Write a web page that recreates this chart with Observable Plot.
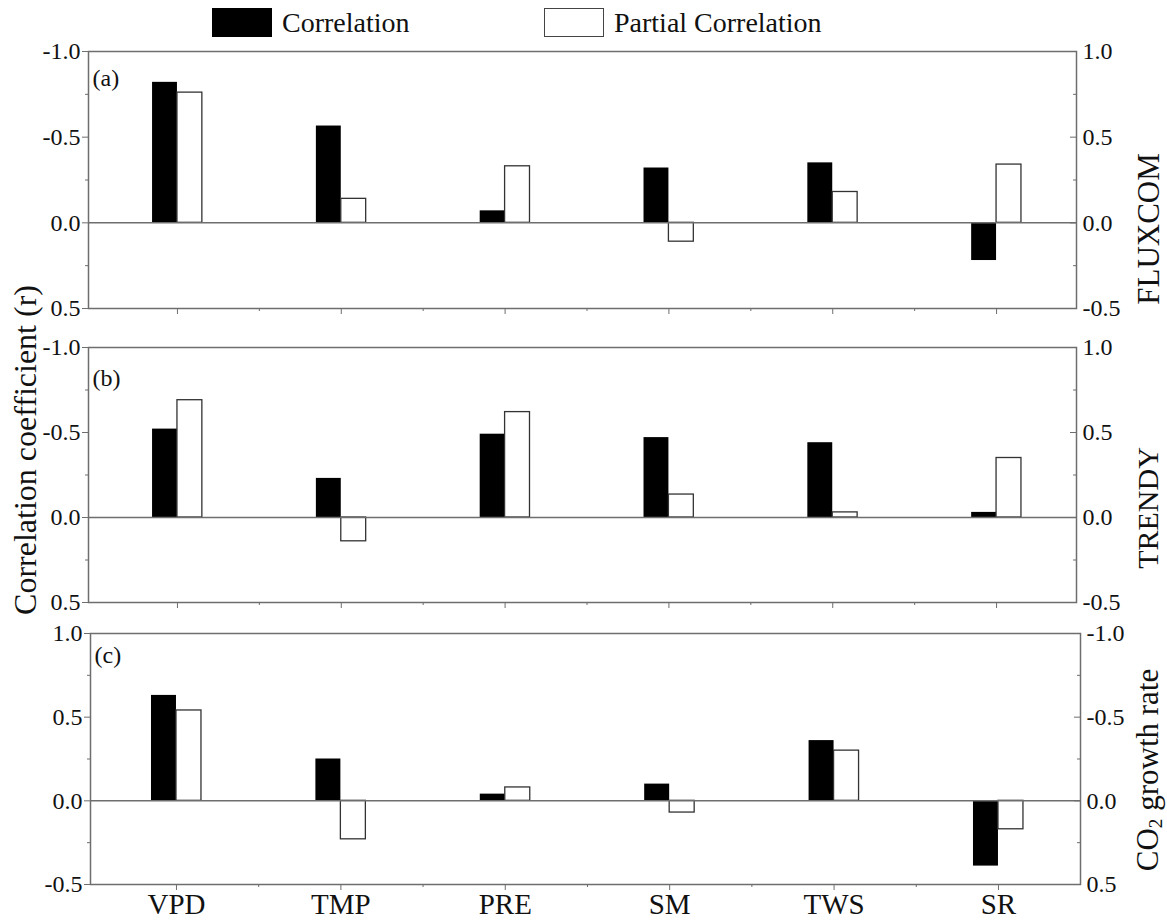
<!DOCTYPE html>
<html>
<head>
<meta charset="utf-8">
<script src="https://cdn.jsdelivr.net/npm/d3@7"></script>
<script src="https://cdn.jsdelivr.net/npm/@observablehq/plot@0.6"></script>
<style>
  html, body { margin: 0; padding: 0; background: #fff; }
  #root { position: relative; width: 1167px; height: 924px; overflow: hidden;
          font-family: "Liberation Serif", "Times New Roman", serif; color: #111; }
  .panel { position: absolute; left: 0; }
  .rot { position: absolute; transform: translate(-50%, -50%) rotate(-90deg);
         white-space: nowrap; line-height: 1; font-size: 31px; }
  .rot sub { font-size: 0.62em; vertical-align: -0.25em; line-height: 0; }
  .swatch { position: absolute; width: 60px; height: 29px; box-sizing: border-box; }
  .legtext { position: absolute; font-size: 28px; line-height: 1; white-space: nowrap; }
</style>
</head>
<body>
<div id="root"></div>
<script>
// ---------- data (left-axis correlation coefficients) ----------
const variables = ["VPD", "TMP", "PRE", "SM", "TWS", "SR"];
const fluxcomCorr    = [-0.82, -0.565, -0.07, -0.32, -0.35,  0.22];
const fluxcomPartial = [-0.76, -0.14,  -0.33,  0.11, -0.18, -0.34];
const trendyCorr     = [-0.52, -0.23,  -0.49, -0.47, -0.44, -0.03];
const trendyPartial  = [-0.69,  0.14,  -0.62, -0.135, -0.03, -0.35];
const co2Corr        = [ 0.63,  0.25,   0.04,  0.10,  0.36, -0.39];
const co2Partial     = [ 0.54, -0.23,   0.08, -0.07,  0.30, -0.17];
// tick values (left axis); right axis shows the opposite sign
const majorTicksAB = [-1.0, -0.5, 0.0, 0.5];
const minorTicksAB = [-0.75, -0.25, 0.25];
const majorTicksC  = [-0.5, 0.0, 0.5, 1.0];
const minorTicksC  = [-0.25, 0.25, 0.75];
const xMajor = [0, 1, 2, 3, 4, 5];
const xMinor = [0.5, 1.5, 2.5, 3.5, 4.5];
const seriesNames = ["Correlation", "Partial Correlation"];

const root = document.getElementById("root");
const W = 1167;
const barW = 0.152;
const axisGray = "#6e6e6e";
const ink = "#111";

function makePanel(cfg) {
  const rows = variables.map((v, i) => ({ v, i, corr: cfg.corr[i], partial: cfg.partial[i] }));
  const frameW = W - cfg.ml - cfg.mr;
  const plot = Plot.plot({
    width: W,
    height: cfg.height,
    marginLeft: cfg.ml,
    marginRight: cfg.mr,
    marginTop: cfg.mt,
    marginBottom: cfg.mb,
    style: { fontFamily: '"Liberation Serif", "Times New Roman", serif', color: ink, background: "transparent" },
    x: { type: "linear", domain: cfg.xDomain },
    y: { type: "linear", domain: cfg.yDomain },
    marks: [
      Plot.rect(rows, { x1: d => d.i - barW, x2: d => d.i, y1: d => 0, y2: d => d.corr, fill: "#000" }),
      Plot.rect(rows, { x1: d => d.i, x2: d => d.i + barW, y1: d => 0, y2: d => d.partial,
                        fill: "#fff", stroke: "#333", strokeWidth: 1.3 }),
      Plot.ruleY([0], { stroke: axisGray, strokeWidth: 1.5 }),
      Plot.frame({ stroke: axisGray, strokeWidth: 1.5 }),
      // left axis
      Plot.axisY({ anchor: "left", ticks: cfg.major, tickSize: 6, tickPadding: 2,
                   tickFormat: d => d.toFixed(1), fontSize: 24, stroke: axisGray, fill: ink, label: null }),
      Plot.axisY({ anchor: "left", ticks: cfg.minor, tickSize: 3, tickFormat: () => "",
                   stroke: axisGray, label: null }),
      // right axis (opposite sign), ticks inward
      Plot.tickY(cfg.major, { y: d => d, insetLeft: frameW - 6, stroke: axisGray, strokeWidth: 1 }),
      Plot.tickY(cfg.minor, { y: d => d, insetLeft: frameW - 3, stroke: axisGray, strokeWidth: 1 }),
      Plot.axisY({ anchor: "right", ticks: cfg.major, tickSize: 0, tickPadding: 6,
                   tickFormat: d => (-d).toFixed(1), fontSize: 24, fill: ink, label: null }),
      // bottom axis
      Plot.axisX({ anchor: "bottom", ticks: xMajor, tickSize: 6, tickPadding: 3,
                   tickFormat: i => cfg.showLabels ? variables[i] : "", fontSize: 29,
                   stroke: axisGray, fill: ink, label: null }),
      Plot.axisX({ anchor: "bottom", ticks: xMinor, tickSize: 3, tickFormat: () => "",
                   stroke: axisGray, label: null }),
      Plot.text([cfg.letter], { text: d => d, frameAnchor: "top-left", dx: 4, dy: cfg.letterDy,
                                fontSize: 24, fill: ink })
    ]
  });
  plot.classList.add("panel");
  plot.style.top = cfg.top + "px";
  root.appendChild(plot);
}

makePanel({ corr: fluxcomCorr, partial: fluxcomPartial, yDomain: [0.5, -1.0],
            major: majorTicksAB, minor: minorTicksAB,
            top: 30, height: 305, mt: 21, mb: 27, ml: 88, mr: 91, xDomain: [-0.543, 5.488],
            letter: "(a)", letterDy: 17, showLabels: false });
makePanel({ corr: trendyCorr, partial: trendyPartial, yDomain: [0.5, -1.0],
            major: majorTicksAB, minor: minorTicksAB,
            top: 325, height: 295, mt: 22, mb: 18, ml: 88, mr: 91, xDomain: [-0.543, 5.488],
            letter: "(b)", letterDy: 21, showLabels: false });
makePanel({ corr: co2Corr, partial: co2Partial, yDomain: [-0.5, 1.0],
            major: majorTicksC, minor: minorTicksC,
            top: 610, height: 314, mt: 23, mb: 40, ml: 90, mr: 87, xDomain: [-0.523, 5.499],
            letter: "(c)", letterDy: 12, showLabels: true });

// ---------- axis titles ----------
function rotLabel(html, cx, cy, size) {
  const d = document.createElement("div");
  d.className = "rot";
  d.innerHTML = html;
  d.style.left = cx + "px";
  d.style.top = cy + "px";
  d.style.fontSize = size + "px";
  root.appendChild(d);
}
rotLabel("Correlation coefficient (r)", 25, 450, 32);
rotLabel("FLUXCOM", 1148, 229, 31);
rotLabel("TRENDY", 1148, 508, 30);
rotLabel("CO<sub>2</sub> growth rate", 1147, 770, 31);

// ---------- legend ----------
function legendItem(x, label, filled) {
  const s = document.createElement("div");
  s.className = "swatch";
  s.style.left = x + "px";
  s.style.top = "8px";
  s.style.background = filled ? "#000" : "#fff";
  s.style.border = filled ? "none" : "1.3px solid #444";
  root.appendChild(s);
  const t = document.createElement("div");
  t.className = "legtext";
  t.textContent = label;
  t.style.left = (x + 70) + "px";
  t.style.top = "9px";
  root.appendChild(t);
}
legendItem(212, seriesNames[0], true);
legendItem(544, seriesNames[1], false);
</script>
</body>
</html>
